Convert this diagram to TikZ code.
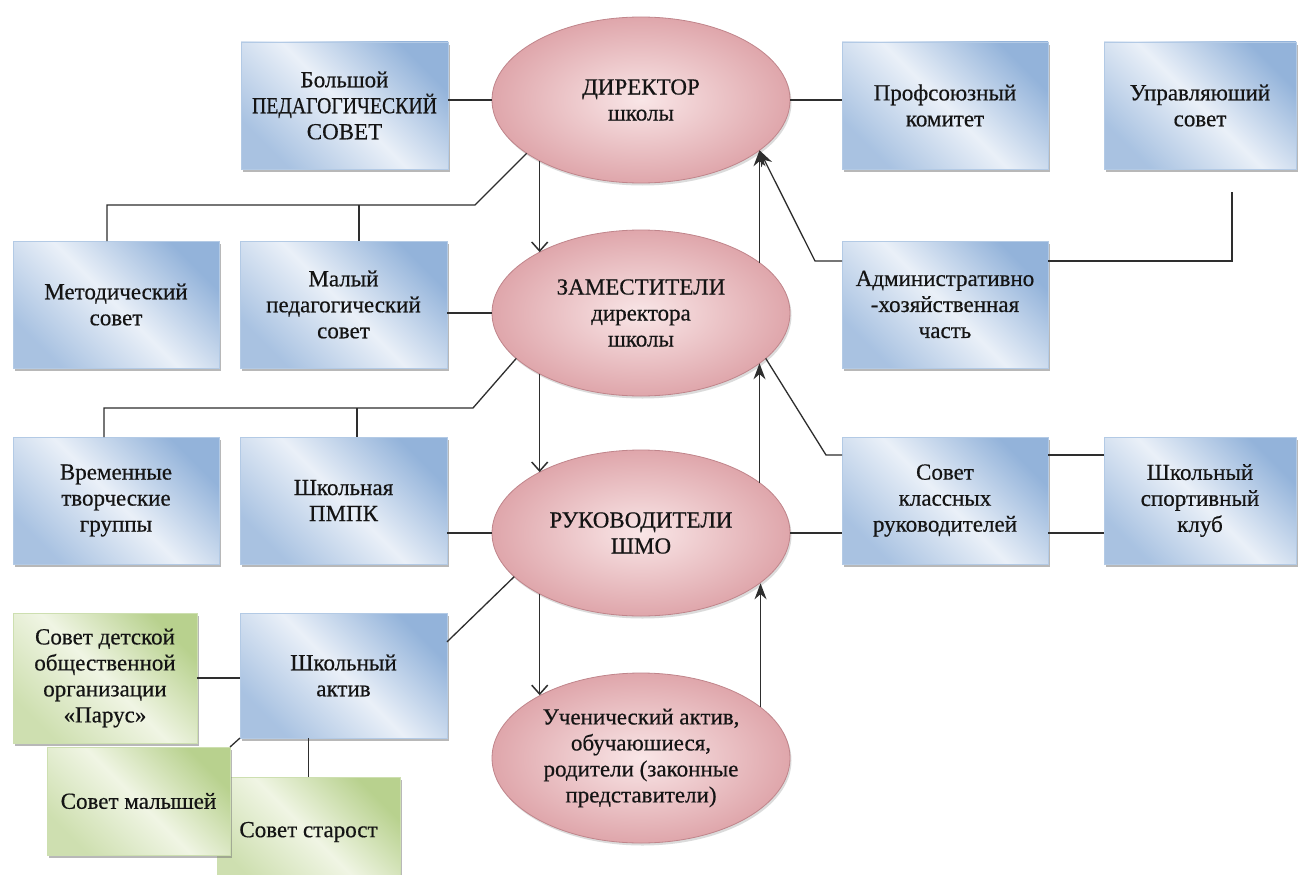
\documentclass[tikz,border=0pt]{standalone}
\usepackage{fontspec}
\setmainfont{Liberation Serif}
\newfontfamily\tms[FakeBold=0.5]{Liberation Serif}
\usetikzlibrary{shapes.geometric,shadows,arrows.meta,calc}
\definecolor{blueD}{HTML}{93B3DA}
\definecolor{blueL}{HTML}{EAF0F8}
\definecolor{pinkD}{HTML}{DFA6AB}
\definecolor{pinkL}{HTML}{F9E6E7}
\definecolor{pinkB}{HTML}{C0858B}
\definecolor{greenD}{HTML}{B8D18E}
\definecolor{greenL}{HTML}{F0F5E4}
\definecolor{lineC}{HTML}{2E2E2E}
\definecolor{txtC}{HTML}{141414}
\newcommand{\fsz}{\tms\fontsize{23}{26}\selectfont}
\begin{document}
\begin{tikzpicture}[x=1pt,y=-1pt,
 boxbase/.style={rectangle, anchor=north west, align=center, inner sep=2pt, outer sep=0pt, text=txtC, font=\fsz,
   drop shadow={shadow xshift=2pt, shadow yshift=-3pt, fill=black!55, opacity=0.5}},
 bluebox/.style={boxbase, top color=blueD, bottom color=blueD!75!blueL, middle color=blueL, shading angle=-45, draw=blueD!70!white, line width=0.4pt},
 greenbox/.style={boxbase, top color=greenD, bottom color=greenD!60!greenL, middle color=greenL, shading angle=-45, draw=greenD!70!white, line width=0.4pt},
 oval/.style={ellipse, inner sep=0pt, outer sep=0pt, align=center, text=txtC, font=\fsz, inner color=pinkL, outer color=pinkD, draw=pinkB, line width=0.8pt, minimum width=298pt, minimum height=166pt,
   drop shadow={shadow xshift=1.5pt, shadow yshift=-2.5pt, fill=black!40, opacity=0.35}},
 conn/.style={draw=lineC, line width=1.3pt},
 downarr/.style={conn, -{Straight Barb[length=9pt,width=16pt,line width=1.5pt]}},
 uparr/.style={conn, -{Stealth[length=16pt,width=12pt]}},
]
\useasboundingbox[fill=white] (0,0) rectangle (1301,875);

% boxes
\node[bluebox, minimum width=207pt, minimum height=127pt] (bolsh) at (241,42) {Большой\\\scalebox{0.86}[1]{ПЕДАГОГИЧЕСКИЙ}\\СОВЕТ};
\node[bluebox, minimum width=206pt, minimum height=127pt] (prof) at (842,42) {Профсоюзный\\комитет};
\node[bluebox, minimum width=192pt, minimum height=127pt] (uprav) at (1104,42) {Управляюший\\совет};
\node[bluebox, minimum width=206pt, minimum height=127pt] (metod) at (13,241) {Методический\\совет};
\node[bluebox, minimum width=207pt, minimum height=127pt] (malyi) at (240,241) {Малый\\педагогический\\совет};
\node[bluebox, minimum width=206pt, minimum height=127pt] (admin) at (842,241) {Административно\\-хозяйственная\\часть};
\node[bluebox, minimum width=206pt, minimum height=127pt] (vrem) at (13,437) {Временные\\творческие\\группы};
\node[bluebox, minimum width=207pt, minimum height=127pt] (pmpk) at (240,437) {Школьная\\ПМПК};
\node[bluebox, minimum width=206pt, minimum height=127pt] (sovkl) at (842,437) {Совет\\классных\\руководителей};
\node[bluebox, minimum width=192pt, minimum height=127pt] (sport) at (1104,437) {Школьный\\спортивный\\клуб};
\node[greenbox, minimum width=184pt, minimum height=130pt] (parus) at (13,613) {Совет детской\\общественной\\организации\\«Парус»};
\node[bluebox, minimum width=207pt, minimum height=125pt] (aktiv) at (240,613) {Школьный\\актив};
\node[greenbox, minimum width=183pt, minimum height=110pt] (starost) at (217,777) {Совет старост};
\node[greenbox, minimum width=183pt, minimum height=108pt] (malysh) at (47,747) {Совет малышей};

% ellipses
\node[oval] (dir) at (641,100) {ДИРЕКТОР\\школы};
\node[oval] (zam) at (641,313) {ЗАМЕСТИТЕЛИ\\директора\\школы};
\node[oval] (ruk) at (641,533) {РУКОВОДИТЕЛИ\\ШМО};
\node[oval, minimum height=170pt] (uch) at (641,758) {Ученический актив,\\обучаюшиеся,\\родители (законные\\представители)};

% left connectors
\draw[conn] (dir.west) -- (dir.west -| bolsh.east);
\draw[conn] (dir.east) -- (dir.east -| prof.west);
\coordinate (j1) at (475,205);
\coordinate (j1m) at (107,205);
\coordinate (j1n) at (359,205);
\draw[conn] (dir.205) -- (j1) -- (j1m) -- (j1m |- metod.north);
\draw[conn] (j1n) -- (j1n |- malyi.north);
\draw[conn] (zam.west) -- (zam.west -| malyi.east);
\coordinate (j2) at (473,408);
\coordinate (j2m) at (104,408);
\coordinate (j2n) at (357,408);
\draw[conn] (zam.200) -- (j2) -- (j2m) -- (j2m |- vrem.north);
\draw[conn] (j2n) -- (j2n |- pmpk.north);
\draw[conn] (ruk.west) -- (ruk.west -| pmpk.east);
\draw[conn] (ruk.199) -- (aktiv.18);
\draw[conn] (parus.east) -- (parus.east -| aktiv.west);
\draw[conn] (aktiv.south west) -- (malysh.north east);
\draw[conn] (starost.north) -- (starost.north |- aktiv.south);

% right connectors
\coordinate (k1) at (826,455);
\draw[conn] (zam.340) -- (k1) -- (k1 -| sovkl.west);
\draw[conn] (k1 -| sovkl.east) -- (k1 -| sport.west);
\draw[conn] (ruk.east) -- (ruk.east -| sovkl.west);
\draw[conn] (ruk.east -| sovkl.east) -- (ruk.east -| sport.west);
\coordinate (a1) at (815,261);
\coordinate (u1) at (1232,261);
\coordinate (u2) at (1232,192);
\coordinate (tip1) at (zam.23 |- dir.337);
\draw[uparr] (a1 -| admin.west) -- (a1) -- (tip1);
\draw[conn] (a1 -| admin.east) -- (u1) -- (u2);

% vertical arrows
\draw[downarr] (dir.211) -- (dir.211 |- zam.149);
\draw[downarr] (zam.211) -- (zam.211 |- ruk.149);
\draw[downarr] (ruk.211) -- (ruk.211 |- uch.148);
\draw[uparr] (zam.23) -- (tip1);
\draw[uparr] (ruk.23) -- (ruk.23 |- zam.337);
\draw[uparr] (uch.23) -- (uch.23 |- ruk.337);
\end{tikzpicture}
\end{document}
